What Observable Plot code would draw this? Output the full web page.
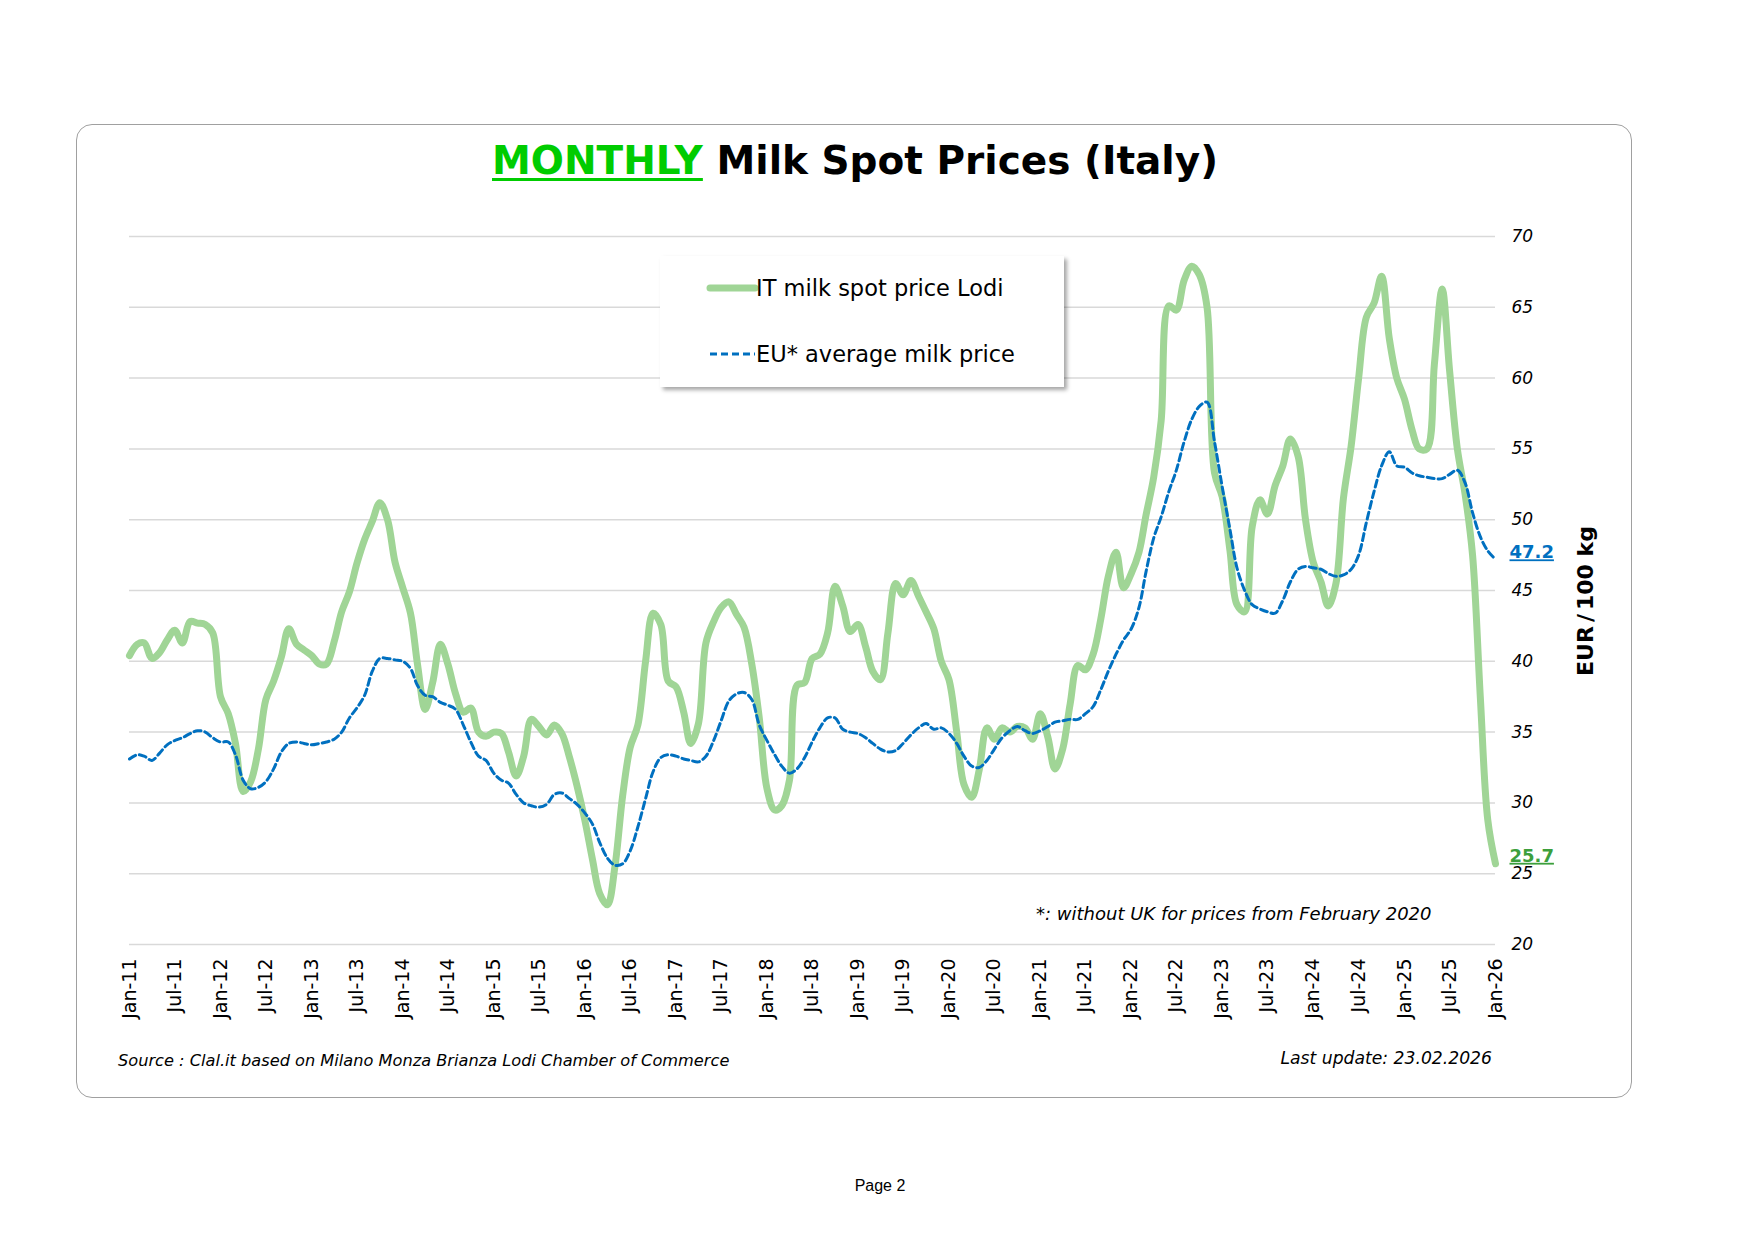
<!DOCTYPE html>
<html>
<head>
<meta charset="utf-8">
<script src="https://cdn.jsdelivr.net/npm/d3@7"></script>
<script src="https://cdn.jsdelivr.net/npm/@observablehq/plot@0.6"></script>
<style>
html, body { margin: 0; padding: 0; background: #fff; }
body { width: 1754px; height: 1240px; position: relative; overflow: hidden; font-family: "DejaVu Sans", Verdana, sans-serif; color: #000; }
.frame { position: absolute; left: 76px; top: 124px; width: 1554px; height: 972px; border: 1.5px solid #a0a0a0; border-radius: 16px; z-index: 0; }
#chart { position: absolute; left: 0; top: 0; z-index: 1; }
.txt { position: absolute; line-height: 1; white-space: nowrap; z-index: 2; }
.title { left: 855px; top: 141px; transform: translateX(-50%); font-size: 39px; font-weight: bold; }
.title .m { color: #00cc00; text-decoration: underline; text-decoration-thickness: 3px; text-underline-offset: 4px; }
.legend { position: absolute; left: 660px; top: 256px; width: 404px; height: 131px; background: #fff; box-shadow: 3px 3px 4px rgba(0,0,0,0.35); z-index: 2; }
.legend svg { position: absolute; left: 0; top: 0; }
.legend .lt { position: absolute; left: 96px; font-size: 22.5px; line-height: 1; white-space: nowrap; }
.ylab { left: 1586px; top: 601px; transform: translate(-50%, -50%) rotate(-90deg); font-size: 22px; font-weight: bold; }
.ylab .sl { margin: 0 4px; }
.note { left: 1036px; top: 905px; font-size: 18px; font-style: italic; }
.source { left: 118px; top: 1053px; font-size: 16.2px; font-style: italic; }
.update { right: 262px; top: 1050px; font-size: 17.2px; font-style: italic; }
.page { left: 880px; top: 1178px; transform: translateX(-50%); font-family: "Liberation Sans", Arial, sans-serif; font-size: 16px; }
</style>
</head>
<body>
<div class="frame"></div>
<div id="chart"></div>
<div class="txt title"><span class="m">MONTHLY</span> Milk Spot Prices (Italy)</div>
<div class="legend">
  <svg width="404" height="131">
    <line x1="50" x2="95" y1="32" y2="32" stroke="#a0d596" stroke-width="7" stroke-linecap="round"></line>
    <line x1="50" x2="95" y1="98" y2="98" stroke="#0070c0" stroke-width="3" stroke-dasharray="7,4"></line>
  </svg>
  <div class="lt" style="top:21px">IT milk spot price Lodi</div>
  <div class="lt" style="top:87px">EU* average milk price</div>
</div>
<div class="txt ylab">EUR<span class="sl">/</span>100 kg</div>
<div class="txt note">*: without UK for prices from February 2020</div>
<div class="txt source">Source : Clal.it based on Milano Monza Brianza Lodi Chamber of Commerce</div>
<div class="txt update">Last update: 23.02.2026</div>
<div class="txt page">Page 2</div>
<script>
// First month of both series (monthly data, Jan-2011 .. Jan-2026)
const startMonth = "2011-01";

// IT milk spot price Lodi (EUR/100 kg), monthly
const itSpot = [
  40.4, 41.2, 41.3, 40.2, 40.6, 41.5, 42.2, 41.3, 42.8, 42.7, 42.6, 42.0,
  37.5, 36.3, 34.2, 30.8, 31.5, 33.8, 37.3, 38.6, 40.3, 42.3, 41.2, 40.8,
  40.4, 39.8, 39.8, 41.4, 43.5, 44.9, 46.9, 48.6, 49.9, 51.2, 50.0, 47.0,
  45.2, 43.4, 39.8, 36.6, 38.5, 41.2, 39.8, 37.7, 36.4, 36.7, 35.0, 34.7,
  35.0, 34.9, 33.6, 31.9, 33.3, 35.9, 35.4, 34.8, 35.5, 34.9, 33.2, 31.2,
  28.8, 26.0, 23.6, 22.8, 25.5, 30.5, 33.9, 35.5, 40.0, 43.4, 42.6, 38.6,
  38.2, 36.4, 34.2, 35.6, 41.3, 42.8, 43.8, 44.2, 43.3, 42.4, 39.8, 36.0,
  31.0, 29.5, 29.8, 31.6, 38.3, 38.5, 40.2, 40.5, 42.0, 45.3, 43.9, 42.1,
  42.6, 41.0, 39.3, 38.7, 42.0, 45.5, 44.7, 45.7, 44.6, 43.5, 42.3, 40.0,
  38.7, 35.0, 31.3, 30.4, 32.3, 35.3, 34.5, 35.3, 35.0, 35.4, 35.3, 34.5,
  36.3, 34.6, 32.4, 33.8, 37.0, 39.7, 39.4, 40.5, 43.0, 46.0, 47.7, 45.2,
  46.2, 47.7, 50.3, 53.0, 57.0, 65.1, 64.8, 66.9, 67.9, 67.3, 65.0, 53.3,
  51.6, 47.8, 44.0, 43.5, 49.5, 51.4, 50.4, 52.4, 53.8, 55.7, 54.5, 50.0,
  47.0, 45.6, 43.9, 45.5, 51.5, 55.2, 60.0, 64.3, 65.3, 67.2, 62.8, 60.0,
  58.5, 56.3, 55.0, 55.0, 61.0, 66.3, 60.5, 55.0, 51.8, 47.5, 37.5, 28.8,
  25.7
];

// EU* average milk price (EUR/100 kg), monthly
const euAvg = [
  33.1, 33.4, 33.3, 33.0, 33.5, 34.1, 34.4, 34.6, 34.9, 35.1, 35.0, 34.6,
  34.3, 34.3, 33.4, 31.6, 31.0, 31.1, 31.5, 32.4, 33.6, 34.2, 34.3, 34.2,
  34.1, 34.2, 34.3, 34.5, 35.0, 36.0, 36.7, 37.6, 39.3, 40.2, 40.2, 40.1,
  40.0, 39.5, 38.3, 37.6, 37.5, 37.1, 36.9, 36.6, 35.5, 34.3, 33.3, 33.0,
  32.1, 31.6, 31.4, 30.6, 30.0, 29.8, 29.7, 29.9, 30.6, 30.7, 30.3, 29.9,
  29.3, 28.5, 27.2, 26.1, 25.6, 25.7, 26.6, 28.3, 30.3, 32.2, 33.2, 33.4,
  33.3, 33.1, 33.0, 32.9, 33.3, 34.4, 35.8, 37.2, 37.7, 37.8, 37.3, 35.5,
  34.4, 33.4, 32.6, 32.1, 32.4, 33.2, 34.3, 35.3, 36.0, 36.0, 35.2, 35.0,
  34.9, 34.6, 34.2, 33.8, 33.6, 33.7, 34.2, 34.8, 35.3, 35.6, 35.2, 35.3,
  34.9, 34.2, 33.3, 32.6, 32.5, 33.0, 33.8, 34.6, 35.1, 35.4, 35.1, 34.9,
  35.1, 35.4, 35.7, 35.8, 35.9, 35.9, 36.3, 36.8, 38.0, 39.3, 40.5, 41.5,
  42.3, 43.8, 46.3, 48.7, 50.2, 52.0, 53.5, 55.5, 57.1, 58.0, 58.3, 55.5,
  52.3, 49.3, 46.6, 45.0, 44.0, 43.7, 43.5, 43.4, 44.3, 45.6, 46.5, 46.7,
  46.6, 46.5, 46.2, 46.0, 46.1, 46.5, 47.5, 49.8, 52.0, 53.8, 54.8, 53.8,
  53.7, 53.3, 53.1, 53.0, 52.9, 52.9, 53.2, 53.5, 52.6, 50.5, 48.8, 47.8,
  47.2
];

// Axis ticks
const yTicks = [20, 25, 30, 35, 40, 45, 50, 55, 60, 65, 70];
const xTickLabels = [
  "Jan-11", "Jul-11", "Jan-12", "Jul-12", "Jan-13", "Jul-13", "Jan-14", "Jul-14",
  "Jan-15", "Jul-15", "Jan-16", "Jul-16", "Jan-17", "Jul-17", "Jan-18", "Jul-18",
  "Jan-19", "Jul-19", "Jan-20", "Jul-20", "Jan-21", "Jul-21", "Jan-22", "Jul-22",
  "Jan-23", "Jul-23", "Jan-24", "Jul-24", "Jan-25", "Jul-25", "Jan-26"
];

const colIT = "#a0d596";
const colEU = "#0070c0";
const colITLabel = "#3c9f3c";

const start = d3.utcParse("%Y-%m")(startMonth);
const rows = itSpot.map((v, i) => ({date: d3.utcMonth.offset(start, i), it: v, eu: euAvg[i]}));
const parseTick = d3.utcParse("%b-%y");
const fmtTick = d3.utcFormat("%b-%y");
const tickDates = xTickLabels.map(parseTick);
const last = rows[rows.length - 1];

const chart = Plot.plot({
  width: 1754,
  height: 1100,
  marginLeft: 129,
  marginRight: 259,
  marginTop: 236,
  marginBottom: 156,
  style: {fontFamily: '"DejaVu Sans", Verdana, sans-serif', background: "transparent", overflow: "visible", color: "#000"},
  x: {type: "utc", domain: [tickDates[0], tickDates[tickDates.length - 1]]},
  y: {domain: [20, 70]},
  marks: [
    Plot.ruleY(yTicks, {stroke: "#d9d9d9", strokeWidth: 1.5}),
    Plot.axisY(yTicks, {anchor: "right", tickSize: 0, tickPadding: 16, fontSize: 17, fontStyle: "italic", label: null, fill: "#000"}),
    Plot.axisX(tickDates, {anchor: "bottom", tickSize: 0, tickPadding: 14, tickRotate: -90, fontSize: 19, tickFormat: fmtTick, label: null, fill: "#000"}),
    Plot.line(rows, {x: "date", y: "it", stroke: colIT, strokeWidth: 7, curve: "catmull-rom", strokeLinecap: "round", strokeLinejoin: "round"}),
    Plot.line(rows, {x: "date", y: "eu", stroke: colEU, strokeWidth: 3, strokeDasharray: "7,4", curve: "catmull-rom"}),
    Plot.text([last], {x: "date", y: "eu", text: d => d.eu.toFixed(1), dx: 14, dy: -1, textAnchor: "start", lineAnchor: "bottom", fontWeight: "bold", fontSize: 18, fill: colEU}),
    Plot.text([last], {x: "date", y: "it", text: d => d.it.toFixed(1), dx: 14, dy: -2, textAnchor: "start", lineAnchor: "bottom", fontWeight: "bold", fontSize: 18, fill: colITLabel})
  ]
});

d3.select(chart).selectAll("text")
  .filter(function() { return this.textContent === last.eu.toFixed(1) || this.textContent === last.it.toFixed(1); })
  .style("text-decoration", "underline");

document.getElementById("chart").appendChild(chart);
</script>
</body>
</html>
